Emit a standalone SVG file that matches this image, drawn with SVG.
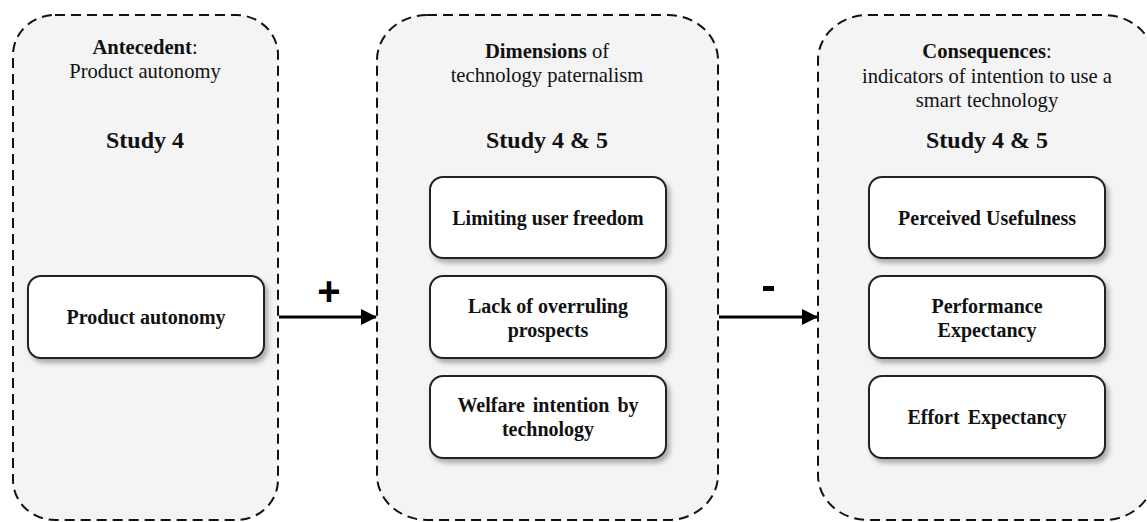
<svg xmlns="http://www.w3.org/2000/svg" width="1147" height="522" viewBox="0 0 1147 522">
<defs>
<style>
.cont{fill:#f4f4f4;stroke:#111;stroke-width:2;stroke-dasharray:10 6}
.box{fill:#fff;stroke:#222;stroke-width:2;filter:url(#sh)}
.t{font-family:"Liberation Serif","Times New Roman","DejaVu Serif",serif;fill:#111;text-anchor:middle}
.h{font-size:20.6px}
.s{font-size:24px;font-weight:bold}
.b{font-size:20px;font-weight:bold}
.conn{stroke:#000;stroke-width:3;fill:none}
.sign{font-family:"Liberation Sans",Arial,sans-serif;font-size:40px;font-weight:bold;text-anchor:middle;fill:#000}
</style>
<filter id="sh" x="-10%" y="-20%" width="125%" height="150%">
<feDropShadow dx="3" dy="4" stdDeviation="2.5" flood-color="#000" flood-opacity="0.3"/>
</filter>
<marker id="ah2" markerWidth="16" markerHeight="16" refX="15" refY="8" orient="auto" markerUnits="userSpaceOnUse" viewBox="0 0 16 16">
<path d="M0,0 L16,8 L0,16 z" fill="#000"/>
</marker>
</defs>
<rect width="1147" height="522" fill="#fff"/>

<g id="antecedent">
<rect class="cont" x="13" y="15" width="265" height="505" rx="42" ry="40"/>
<text class="t h" x="145" y="54"><tspan font-weight="bold">Antecedent</tspan>:</text>
<text class="t h" x="145" y="78">Product autonomy</text>
<text class="t s" x="145" y="148">Study 4</text>
</g>

<g id="dimensions">
<rect class="cont" x="377" y="15" width="341" height="505" rx="50" ry="45"/>
<text class="t h" x="547" y="58"><tspan font-weight="bold">Dimensions</tspan> of</text>
<text class="t h" x="547" y="82">technology paternalism</text>
<text class="t s" x="547" y="148">Study 4 &amp; 5</text>
</g>

<g id="consequences">
<rect class="cont" x="818" y="15" width="336" height="505" rx="50" ry="45"/>
<text class="t h" x="987" y="58"><tspan font-weight="bold">Consequences</tspan>:</text>
<text class="t h" x="987" y="83">indicators of intention to use a</text>
<text class="t h" x="987" y="107">smart technology</text>
<text class="t s" x="987" y="148">Study 4 &amp; 5</text>
</g>

<g id="node-product-autonomy">
<rect class="box" x="28" y="276" width="236" height="82" rx="13"/>
<text class="t b" x="146" y="324">Product autonomy</text>
</g>

<g id="node-limiting">
<rect class="box" x="430" y="177" width="236" height="81" rx="13"/>
<text class="t b" x="548" y="225">Limiting user freedom</text>
</g>
<g id="node-lack">
<rect class="box" x="430" y="276" width="236" height="82" rx="13"/>
<text class="t b" x="548" y="313">Lack of overruling</text>
<text class="t b" x="548" y="337">prospects</text>
</g>
<g id="node-welfare">
<rect class="box" x="430" y="376" width="236" height="82" rx="13"/>
<text class="t b" x="548" y="412" word-spacing="3">Welfare intention by</text>
<text class="t b" x="548" y="436">technology</text>
</g>

<g id="node-usefulness">
<rect class="box" x="869" y="177" width="236" height="81" rx="13"/>
<text class="t b" x="987" y="225">Perceived Usefulness</text>
</g>
<g id="node-performance">
<rect class="box" x="869" y="276" width="236" height="82" rx="13"/>
<text class="t b" x="987" y="313">Performance</text>
<text class="t b" x="987" y="337">Expectancy</text>
</g>
<g id="node-effort">
<rect class="box" x="869" y="376" width="236" height="82" rx="13"/>
<text class="t b" x="987" y="424" word-spacing="3">Effort Expectancy</text>
</g>

<g id="connectors">
<line class="conn" x1="279" y1="317" x2="376" y2="317" marker-end="url(#ah2)"/>
<text class="sign" x="329" y="305">+</text>
<line class="conn" x1="719" y1="317" x2="817" y2="317" marker-end="url(#ah2)"/>
<rect x="763" y="286" width="11" height="5" fill="#000"/>
</g>
</svg>
